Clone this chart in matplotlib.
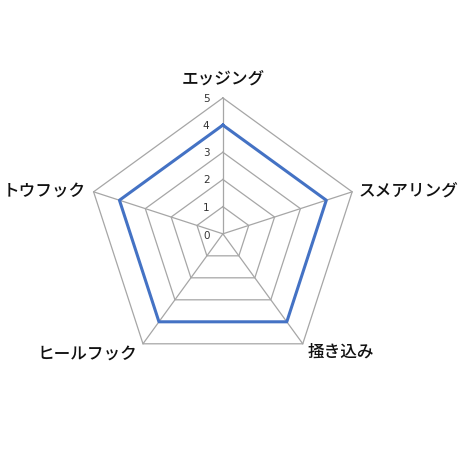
import numpy as np
import matplotlib.pyplot as plt

plt.rcParams['font.family'] = ['Noto Sans CJK JP', 'DejaVu Sans']

categories = ['エッジング', 'スメアリング', '掻き込み', 'ヒールフック', 'トウフック']
values = [4, 4, 4, 4, 4]
levels = [0, 1, 2, 3, 4, 5]


def main():
	n = len(categories)
	theta = np.arange(n) * 2 * np.pi / n
	theta_closed = np.append(theta, theta[0])

	fig = plt.figure(figsize=(4.6, 4.6), dpi=100)
	ax = fig.add_axes([0.189, 0.194, 0.591, 0.591], projection='polar')
	ax.set_theta_offset(np.pi / 2)
	ax.set_theta_direction(-1)
	ax.set_ylim(0, 5)
	ax.spines['polar'].set_visible(False)
	ax.grid(False)
	ax.set_xticks([])
	ax.set_yticks([])

	# pentagon grid
	for lv in levels[1:]:
		ax.plot(theta_closed, [lv] * (n + 1), color='#A6A6A6', lw=0.9, clip_on=False, zorder=1)
	for t in theta:
		ax.plot([t, t], [0, levels[-1]], color='#A6A6A6', lw=0.9, clip_on=False, zorder=1)

	# data
	vals = values + values[:1]
	ax.plot(theta_closed, vals, color='#4472C4', lw=2.2, clip_on=False, zorder=3)

	# scale numbers
	for lv in levels:
		ax.annotate(str(lv), xy=(0, lv), xytext=(-12, -1 if lv == 0 else 0), textcoords='offset points',
			ha='center', va='center', fontsize=7.5, family='DejaVu Sans', color='#333333')

	# category labels
	kw = dict(va='center', fontsize=12, weight='medium', color='#111111')
	ax.text(theta[0], 5.76, categories[0], ha='center', **kw)
	ax.text(theta[1], 5.25, categories[1], ha='left', **kw)
	ax.text(theta[2], 5.33, categories[2], ha='left', **kw)
	ax.text(theta[3], 5.38, categories[3], ha='right', **kw)
	ax.text(theta[4], 5.3, categories[4], ha='right', **kw)

	fig.savefig('out.png', dpi=100)


if __name__ == '__main__':
	main()
